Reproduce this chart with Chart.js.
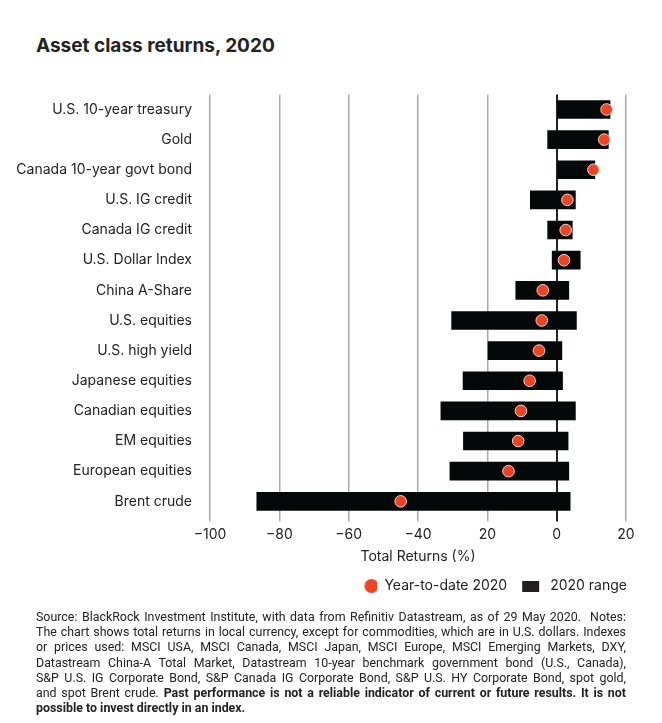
<!DOCTYPE html>
<html>
<head>
<meta charset="utf-8">
<script src="https://cdn.jsdelivr.net/npm/chart.js@4"></script>
<style>
  body { margin: 0; background: #fff; width: 662px; height: 723px; position: relative; overflow: hidden; font-family: Inter, "DejaVu Sans", sans-serif; color: #222; }
  #title { position: absolute; left: 36px; top: 34px; font-size: 19px; font-weight: 700; }
  #wrap { position: absolute; left: 0; top: 68px; width: 662px; height: 543px; }
  #note { position: absolute; left: 36px; top: 609px; width: 590px; font-family: Roboto, sans-serif; font-size: 12.4px; line-height: 15.2px; color: #222; }
  #note div { white-space: nowrap; text-align: justify; text-align-last: justify; }
  #note div.last { text-align-last: left; }
</style>
</head>
<body>
<div id="title">Asset class returns, 2020</div>
<div id="wrap"><canvas id="chart-returns"></canvas></div>
<div id="note">
<div>Source: BlackRock Investment Institute, with data from Refinitiv Datastream, as of 29 May 2020.&nbsp; Notes:</div>
<div>The chart shows total returns in local currency, except for commodities, which are in U.S. dollars. Indexes</div>
<div>or prices used: MSCI USA, MSCI Canada, MSCI Japan, MSCI Europe, MSCI Emerging Markets, DXY,</div>
<div>Datastream China-A Total Market, Datastream 10-year benchmark government bond (U.S., Canada),</div>
<div>S&amp;P U.S. IG Corporate Bond, S&amp;P Canada IG Corporate Bond, S&amp;P U.S. HY Corporate Bond, spot gold,</div>
<div>and spot Brent crude. <b>Past performance is not a reliable indicator of current or future results. It is not</b></div>
<div class="last"><b>possible to invest directly in an index.</b></div>
</div>
<script>
var assetNames = ["U.S. 10-year treasury", "Gold", "Canada 10-year govt bond", "U.S. IG credit", "Canada IG credit",
  "U.S. Dollar Index", "China A-Share", "U.S. equities", "U.S. high yield", "Japanese equities",
  "Canadian equities", "EM equities", "European equities", "Brent crude"];
var rangeLow  = [0, -2.6, 0, -7.6, -2.6, -1.3, -11.8, -30.3, -19.8, -27.0, -33.4, -26.9, -30.8, -86.5];
var rangeHigh = [15.4, 14.9, 11.0, 5.4, 4.5, 6.8, 3.5, 5.7, 1.5, 1.7, 5.4, 3.3, 3.5, 3.9];
var ytd       = [14.4, 13.7, 10.6, 3.1, 2.6, 2.1, -4.0, -4.3, -5.1, -7.8, -10.3, -11.1, -13.9, -45.0];
var xTickLabels = ["\u2212100", "\u221280", "\u221260", "\u221240", "20", "0", "20"];

var rangeData = [];
for (var i = 0; i < assetNames.length; i++) {
  rangeData.push([rangeLow[i], rangeHigh[i]]);
}

// legend swatches, drawn as small images so the spacing can match
var dotSwatch = document.createElement("canvas");
dotSwatch.width = 24;
dotSwatch.height = 14;
var dctx = dotSwatch.getContext("2d");
dctx.fillStyle = "#ee4423";
dctx.beginPath();
dctx.arc(18, 7, 7, 0, Math.PI * 2);
dctx.fill();

var rangeSwatch = document.createElement("canvas");
rangeSwatch.width = 24;
rangeSwatch.height = 11;
var sctx = rangeSwatch.getContext("2d");
sctx.fillStyle = "#231f20";
sctx.fillRect(3, 0, 17, 11);

var ctx = document.getElementById("chart-returns").getContext("2d");
var chart = new Chart(ctx, {
  type: "bar",
  data: {
    labels: assetNames,
    datasets: [{
      type: "line",
      label: "Year-to-date 2020",
      data: ytd,
      showLine: false,
      pointRadius: 5.8,
      pointHoverRadius: 5.8,
      pointStyle: "circle",
      backgroundColor: "#ee4423",
      borderColor: "#f4d6cc",
      pointBorderWidth: 1,
      order: 0
    },
    {
      label: "2020 range",
      data: rangeData,
      backgroundColor: "#050808",
      borderColor: "#050808",
      borderWidth: 0,
      barThickness: 18,
      order: 1
    }]
  },
  options: {
    indexAxis: "y",
    responsive: true,
    maintainAspectRatio: false,
    animation: false,
    layout: { padding: { top: 13, right: 23, left: 0, bottom: 8 } },
    plugins: {
      tooltip: { enabled: false },
      legend: {
        position: "bottom",
        align: "end",
        labels: {
          usePointStyle: true,
          pointStyleWidth: 24,
          boxWidth: 10,
          boxHeight: 10,
          padding: 12,
          color: "#222",
          font: { family: "Inter", size: 14 },
          generateLabels: function(chart) {
            var items = Chart.defaults.plugins.legend.labels.generateLabels(chart);
            items[0].pointStyle = dotSwatch;
            items[1].pointStyle = rangeSwatch;
            return items;
          }
        }
      }
    },
    scales: {
      x: {
        min: -100,
        max: 20,
        border: { display: false },
        grid: {
          color: function(c) { return c.tick && c.tick.value === 0 ? "#222" : "#a8a8a8"; },
          lineWidth: function(c) { return c.tick && c.tick.value === 0 ? 2 : 1.5; },
          tickLength: 5
        },
        ticks: {
          stepSize: 20,
          color: "#222",
          padding: 5,
          font: { family: "Inter", size: 14 },
          callback: function(value, index) { return xTickLabels[index]; }
        },
        title: {
          display: true,
          text: "Total Returns (%)",
          color: "#222",
          padding: { top: 0, bottom: 2 },
          font: { family: "Inter", size: 14 }
        },
        afterFit: function(scale) { scale.paddingRight = 36; }
      },
      y: {
        border: { display: false },
        grid: { display: false, drawTicks: false },
        ticks: {
          color: "#222",
          padding: 18,
          font: { family: "Inter", size: 14 }
        },
        afterFit: function(scale) { scale.width = 210; }
      }
    }
  }
});
</script>
</body>
</html>
